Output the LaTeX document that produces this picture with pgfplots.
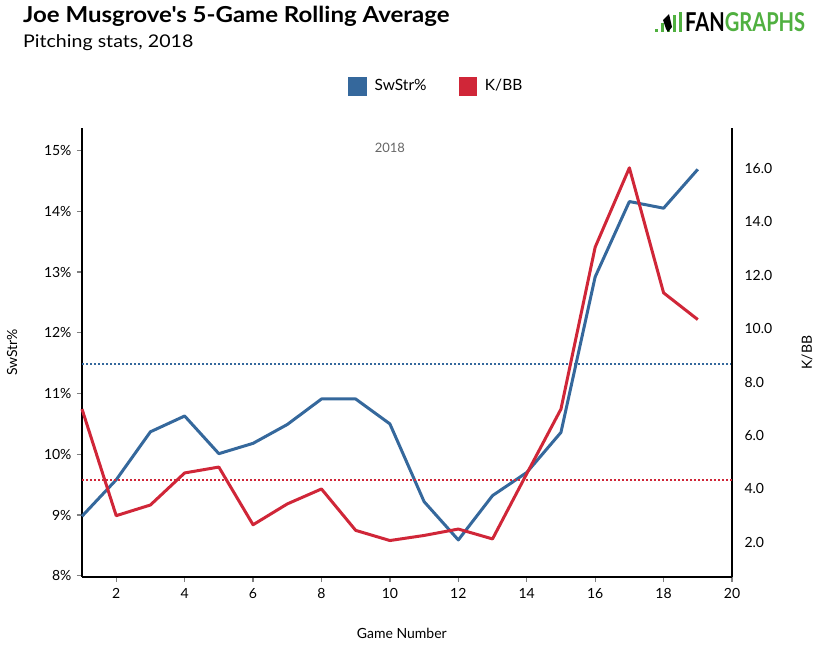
\documentclass[border=0pt]{standalone}
\usepackage{pgfplots}
\pgfplotsset{compat=1.18}
\usepackage{fontspec}
\setmainfont{Lato}
\definecolor{swblue}{HTML}{35689C}
\definecolor{kbred}{HTML}{D02638}
\definecolor{fggreen}{HTML}{50B040}
\definecolor{labgray}{HTML}{666666}
\begin{document}
\begin{tikzpicture}
\path[use as bounding box] (0pt,0pt) rectangle (826pt,657pt);
% titles
\node[anchor=base west, inner sep=0pt, font=\fontsize{22}{24}\selectfont\bfseries\addfontfeature{Ligatures=TeXOff}] at (23pt,634pt) {\scalebox{1.092}[1]{Joe Musgrove's 5-Game Rolling Average}};
\node[anchor=base west, inner sep=0pt, font=\fontsize{17.5}{19}\selectfont] at (23pt,609pt) {\scalebox{1.12}[1]{Pitching stats, 2018}};
% logo
\fill[fggreen] (655pt,625pt) rectangle (658pt,628pt);
\fill[fggreen] (661pt,625pt) rectangle (664pt,634pt);
\fill[fggreen] (667pt,625pt) rectangle (670pt,640pt);
\fill[fggreen] (673pt,625pt) rectangle (676pt,642pt);
\fill[fggreen] (679pt,625pt) rectangle (682pt,645pt);
\fill[black] (663pt,637pt) -- (669pt,643pt) -- (672pt,630pt) -- (668pt,625pt) -- (666pt,628pt) -- cycle;
\node[anchor=south west, inner sep=0pt] at (685pt,625pt) {\resizebox{120pt}{19pt}{\bfseries FAN\textcolor{fggreen}{GRAPHS}}};
\begin{axis}[
  at={(82pt,80pt)}, anchor=south west,
  scale only axis, width=650pt, height=449pt,
  xmin=1, xmax=20, ymin=7.98, ymax=15.37,
  axis x line*=bottom, axis y line*=left,
  axis line style={black, line width=2pt, -},
  xtick={2,4,...,20}, ytick={8,9,...,15},
  yticklabel={\pgfmathprintnumber{\tick}\%},
  tick align=outside, major tick length=5pt,
  tick style={gray, line width=1.2pt},
  /pgf/number format/assume math mode=true,
  ticklabel style={font=\fontsize{14}{16}\selectfont, black},
  xticklabel style={yshift=-3pt},
  yticklabel style={xshift=-2pt},
  every axis y label/.style={at={(axis description cs:-0.1077,0.5)}, anchor=center, rotate=90, font=\fontsize{14}{16}\selectfont},
  every axis x label/.style={at={(axis description cs:0.492,-0.1247)}, anchor=center, font=\fontsize{14}{16}\selectfont},
  xlabel={Game Number}, ylabel={SwStr\%},
  clip=false,
  legend style={at={(axis description cs:0.545,1.0935)}, anchor=center, draw=none, fill=none,
    legend columns=2, font=\fontsize{15.5}{18}\selectfont,
    /tikz/every even column/.append style={column sep=30pt}},
  legend cell align=left,
  legend image code/.code={\fill[#1] (0pt,-8.7pt) rectangle (17.5pt,8.7pt); \path (24pt,0pt);},
]
\addlegendimage{swblue}
\addlegendentry{SwStr\%}
\addlegendimage{kbred}
\addlegendentry{K/BB}
\addplot[swblue, line width=2pt, dash pattern=on 2pt off 2pt, forget plot] coordinates {(1,11.49) (20,11.49)};
\addplot[swblue, line width=3pt, line join=round, forget plot] coordinates {
(1,8.98) (2,9.58) (3,10.37) (4,10.63) (5,10.01) (6,10.18) (7,10.49) (8,10.91) (9,10.91) (10,10.50)
(11,9.22) (12,8.59) (13,9.32) (14,9.70) (15,10.36) (16,12.92) (17,14.16) (18,14.05) (19,14.69)};
\node[labgray, font=\fontsize{13}{15}\selectfont] at (axis cs:10,15.05) {2018};
\end{axis}
\begin{axis}[
  at={(82pt,80pt)}, anchor=south west,
  scale only axis, width=650pt, height=449pt,
  xmin=1, xmax=20, ymin=0.705, ymax=17.51,
  axis x line=none, axis y line*=right,
  axis line style={black, line width=2pt, -},
  ytick={2,4,...,16},
  /pgf/number format/fixed, /pgf/number format/fixed zerofill, /pgf/number format/precision=1,
  /pgf/number format/assume math mode=true,
  major tick length=0pt,
  ticklabel style={font=\fontsize{14}{16}\selectfont, black},
  yticklabel style={xshift=9pt},
  every axis y label/.style={at={(axis description cs:1.1154,0.5)}, anchor=center, rotate=90, font=\fontsize{14}{16}\selectfont},
  ylabel={K/BB},
  clip=false,
]
\addplot[kbred, line width=2pt, dash pattern=on 2pt off 2pt] coordinates {(1,4.35) (20,4.35)};
\addplot[kbred, line width=3pt, line join=round] coordinates {
(1,6.99) (2,3.00) (3,3.40) (4,4.60) (5,4.82) (6,2.66) (7,3.44) (8,4.00) (9,2.45) (10,2.07)
(11,2.26) (12,2.50) (13,2.13) (14,4.57) (15,6.99) (16,13.05) (17,16.02) (18,11.34) (19,10.34)};
\end{axis}
\end{tikzpicture}
\end{document}
